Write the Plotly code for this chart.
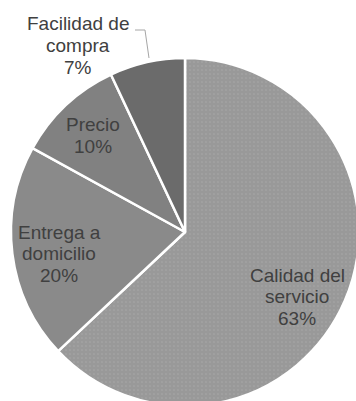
import plotly.graph_objects as go

# Survey: reasons for choosing the service (share of responses, %)
categories = ["Calidad del<br>servicio", "Entrega a<br>domicilio", "Precio", "Facilidad de<br>compra"]
values = [63, 20, 10, 7]
slice_colors = ["#999999", "#8a8a8a", "#818181", "#6b6b6b"]

W, H = 362, 412          # canvas slightly larger than the viewport so the pie bleeds off the edges
CX, CY, R = 185, 232, 174  # pie centre / radius in pixels (top-left origin)

fig = go.Figure(
    go.Pie(
        labels=[c.replace("<br>", " ") for c in categories],
        values=values,
        sort=False,
        direction="clockwise",
        rotation=0,
        textinfo="none",
        hoverinfo="label+percent",
        marker=dict(
            colors=slice_colors,
            line=dict(color="white", width=2.5),
            pattern=dict(
                shape=[".", "", "", ""],
                fgcolor=["#a9a9a9", "#8a8a8a", "#818181", "#6b6b6b"],
                bgcolor=slice_colors,
                size=4,
                solidity=0.12,
                fillmode="replace",
            ),
        ),
        domain=dict(
            x=[(CX - R) / W, (CX + R) / W],
            y=[1 - (CY + R) / H, 1 - (CY - R) / H],
        ),
        showlegend=False,
    )
)

# label anchor (pixel centre of first line) for each slice
label_pos = [(297, 275), (59, 232), (93, 125), (78, 24)]
LINE_GAP = 21.5

annotations = []
for cat, val, (px, py) in zip(categories, values, label_pos):
    lines = cat.split("<br>") + [f"{val}%"]
    for i, txt in enumerate(lines):
        annotations.append(
            dict(
                x=px / W,
                y=1 - (py + i * LINE_GAP) / H,
                xref="paper",
                yref="paper",
                text=txt,
                showarrow=False,
                xanchor="center",
                yanchor="middle",
                font=dict(family="Liberation Sans, Arial, sans-serif", size=19, color="#404040"),
            )
        )

# leader line for the small outside label
def pt(x, y):
    return f"{x / W:.5f},{1 - y / H:.5f}"

fig.add_shape(
    type="path",
    xref="paper",
    yref="paper",
    path=f"M {pt(135, 30)} L {pt(145, 30)} L {pt(149, 58)}",
    line=dict(color="#a6a6a6", width=1),
)

fig.update_layout(
    width=W,
    height=H,
    margin=dict(l=0, r=0, t=0, b=0),
    paper_bgcolor="white",
    plot_bgcolor="white",
    annotations=annotations,
)

fig.write_html(
    "out.html",
    config={"displayModeBar": False},
    post_script="document.documentElement.style.overflow='hidden';document.body.style.overflow='hidden';",
)
